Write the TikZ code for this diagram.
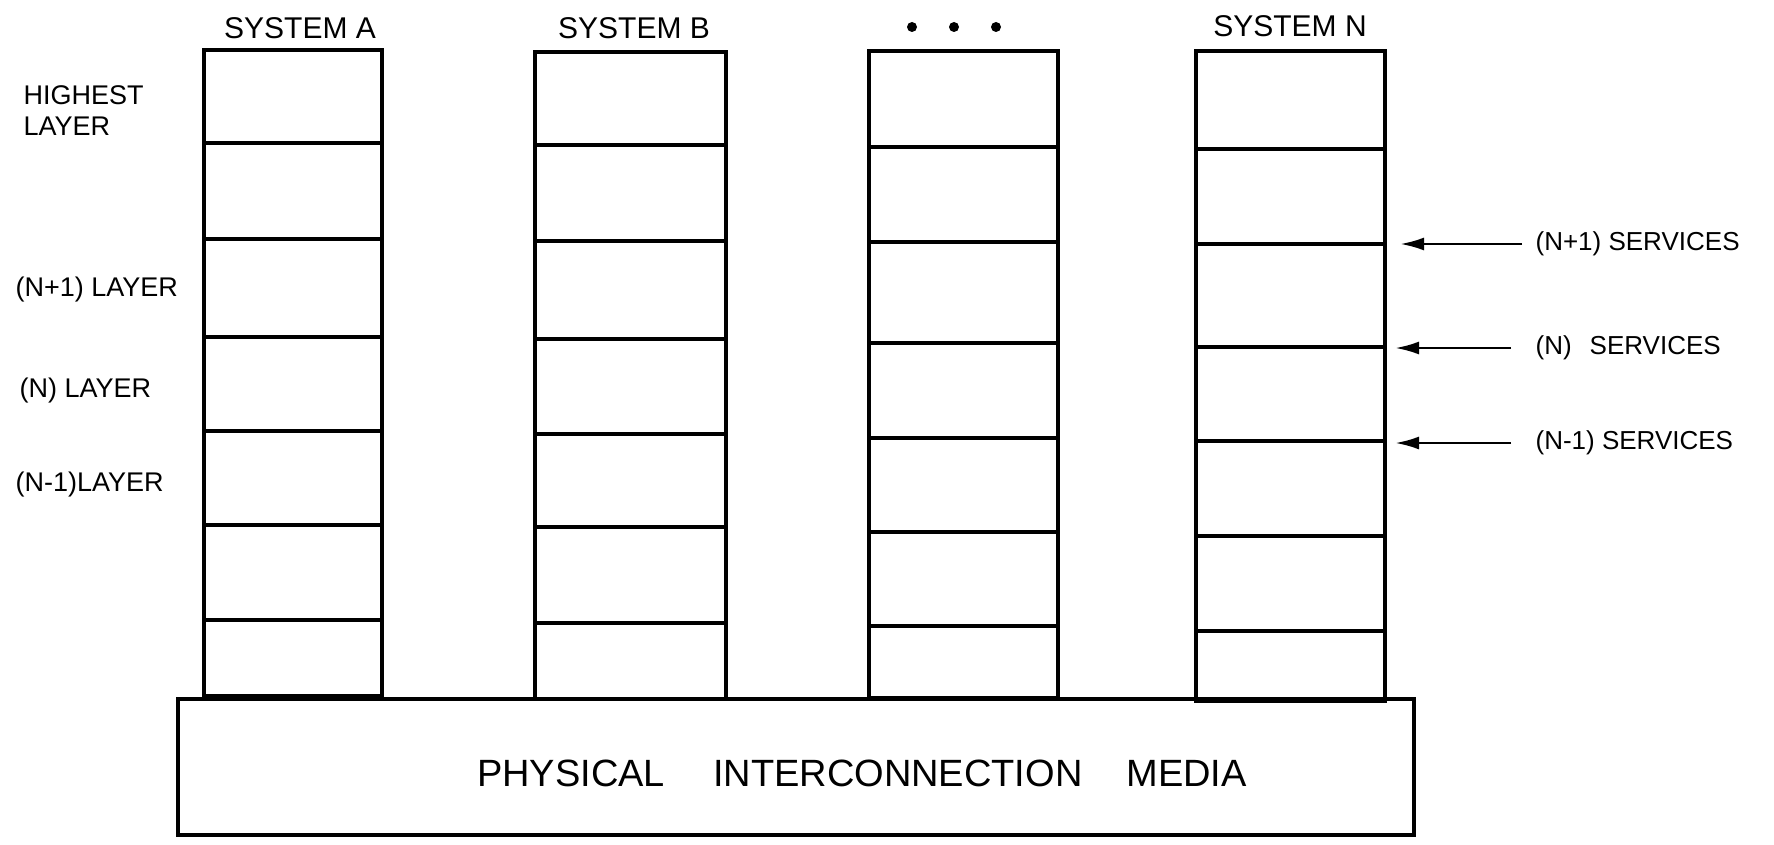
\documentclass[tikz,border=0pt]{standalone}
\usepackage{fontspec}
\setmainfont{Liberation Sans}
\usetikzlibrary{arrows.meta}

\begin{document}
\begin{tikzpicture}[x=1pt,y=-1pt,line width=3.2pt,
  stack/.style={draw,rectangle,inner sep=0pt,outer sep=0pt},
  media/.style={draw,rectangle,inner sep=0pt,outer sep=0pt},
  syslabel/.style={inner sep=0pt,font=\fontsize{30}{34}\selectfont},
  layerlabel/.style={inner sep=0pt,anchor=west,align=left,font=\fontsize{27}{31}\selectfont},
  svclabel/.style={inner sep=0pt,anchor=west,font=\fontsize{26}{30}\selectfont},
  medialabel/.style={inner sep=0pt,font=\fontsize{38}{42}\selectfont},
  dot/.style={circle,fill,inner sep=0pt,minimum size=10pt},
  svcarrow/.style={-{Latex[length=24pt,width=13pt]},line width=2.8pt}]

\useasboundingbox (0,0) rectangle (1774,845);

% the four protocol stacks
\node[stack,minimum width=178pt,minimum height=646pt] (sysA) at (293,373) {};
\node[stack,minimum width=191pt,minimum height=647pt] (sysB) at (630.5,375.5) {};
\node[stack,minimum width=189pt,minimum height=647pt] (sysC) at (963.5,374.5) {};
\node[stack,minimum width=189pt,minimum height=650pt] (sysN) at (1290.5,376) {};

% layer boundaries inside each stack
\foreach \y in {143,239,337,431,525,620}
  \draw (sysA.west |- 0,\y) -- (sysA.east |- 0,\y);
\foreach \y in {145,241,339,434,527,623}
  \draw (sysB.west |- 0,\y) -- (sysB.east |- 0,\y);
\foreach \y in {147,242,343,438,532,626}
  \draw (sysC.west |- 0,\y) -- (sysC.east |- 0,\y);
\foreach \y in {149,244,347,441,536,631}
  \draw (sysN.west |- 0,\y) -- (sysN.east |- 0,\y);

% shared physical medium
\node[media,minimum width=1236pt,minimum height=136pt] (phys) at (796,767) {};
\node[medialabel] (physlabel) at (862,773)
  {PHYSICAL\hspace{48pt}INTERCONNECTION\hspace{44pt}MEDIA};

% stack titles
\node[syslabel] (labA) at (300,28) {SYSTEM A};
\node[syslabel] (labB) at (634,28) {SYSTEM B};
\node[dot] (dot1) at (912,27) {};
\node[dot] (dot2) at (954,27) {};
\node[dot] (dot3) at (996,27) {};
\node[syslabel] (labN) at (1290,26) {SYSTEM N};

% layer names on the left
\node[layerlabel] (highest) at (22,111) {HIGHEST\\LAYER};
\node[layerlabel] (lnp1) at (14,290) {(N+1) LAYER};
\node[layerlabel] (ln) at (18,391) {(N) LAYER};
\node[layerlabel] (lnm1) at (14,485) {(N-1)LAYER};

% services offered at the layer boundaries
\node[svclabel] (snp1) at (1534,244) {(N+1) SERVICES};
\node[svclabel] (sn) at (1534,348) {(N)\hspace{18pt}SERVICES};
\node[svclabel] (snm1) at (1534,443) {(N-1) SERVICES};

\coordinate (tnp1) at (1400,244);
\coordinate (tn) at (1395,348);
\coordinate (tnm1) at (1395,443);

\draw[svcarrow] ([xshift=-12pt]snp1.west) -- (tnp1);
\draw[svcarrow] ([xshift=-23pt]sn.west) -- (tn);
\draw[svcarrow] ([xshift=-23pt]snm1.west) -- (tnm1);

\end{tikzpicture}
\end{document}
